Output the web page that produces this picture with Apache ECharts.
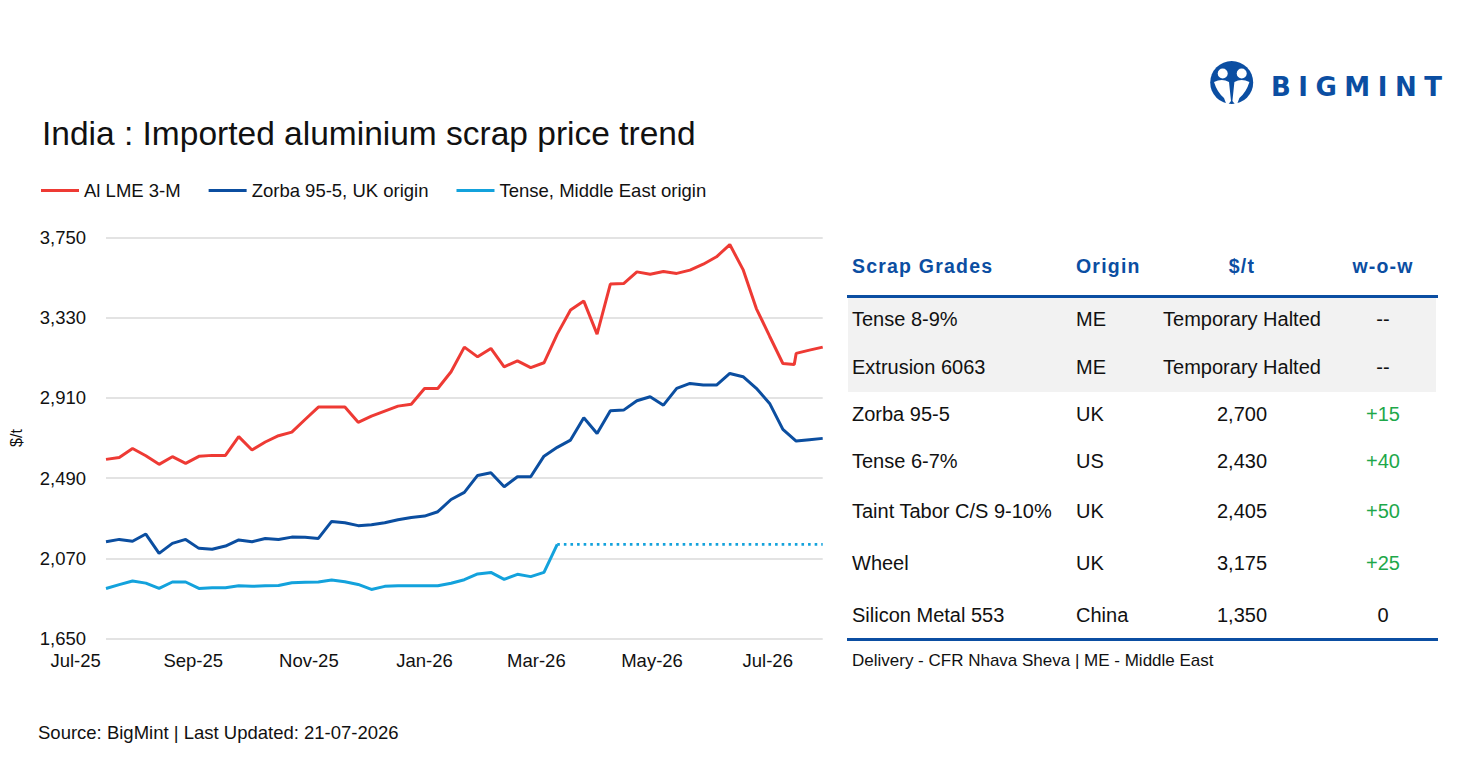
<!DOCTYPE html>
<html>
<head>
<meta charset="utf-8">
<title>India : Imported aluminium scrap price trend</title>
<script src="https://cdn.jsdelivr.net/npm/echarts@6/dist/echarts.min.js"></script>
<style>
  html, body { margin: 0; padding: 0; background: #fff; }
  #page { position: relative; width: 1460px; height: 759px; overflow: hidden;
          font-family: "Liberation Sans", Arial, sans-serif; color: #111; }
  #chart { position: absolute; left: 0; top: 0; width: 1460px; height: 759px; }
  #logo { position: absolute; left: 1208px; top: 58px; }
  #brand { position: absolute; left: 1271px; top: 71px; line-height: 32px; font-size: 26px;
           font-family: "DejaVu Sans", sans-serif; font-weight: bold; letter-spacing: 7.5px; color: #0b4ea2; }
  .cell { position: absolute; white-space: nowrap; height: 30px; line-height: 30px; font-size: 20px; }
  .head { color: #0b4ea2; font-weight: bold; font-size: 19.5px; letter-spacing: 1.2px; }
  .rule { position: absolute; left: 847px; width: 591px; height: 2.5px; background: #0b4ea2; }
  #shade { position: absolute; left: 848px; top: 298px; width: 588px; height: 94px; background: #f2f2f2; }
  #note { position: absolute; left: 852px; top: 649px; font-size: 17px; line-height: 24px; }
</style>
</head>
<body>
<div id="page">
  <div id="chart"></div>
  <svg id="logo" width="48" height="50" viewBox="0 0 48 50">
    <circle cx="23.7" cy="24.5" r="21.5" fill="#0b4ea2"/>
    <circle cx="14.7" cy="15.5" r="5" fill="#fff"/>
    <circle cx="33.7" cy="15.5" r="5" fill="#fff"/>
    <path d="M6 24 Q14 20 21 24 L23 43 L19 48 L16 40 Q9 34 6 24 Z" fill="#fff"/>
    <path d="M41.4 24 Q33.4 20 26.4 24 L24.4 43 L28.4 48 L31.4 40 Q38.4 34 41.4 24 Z" fill="#fff"/>
  </svg>
  <div id="brand">BIGMINT</div>
  <div id="shade"></div>
  <div class="rule" style="top:295px"></div>
  <div class="rule" style="top:638px"></div>
  <div id="table"></div>
  <div id="note">Delivery - CFR Nhava Sheva | ME - Middle East</div>
</div>
<script>
// weekly price points (USD/t)
const weeks = [
  '2025-07-17', '2025-07-24', '2025-07-31', '2025-08-07', '2025-08-14', '2025-08-21', '2025-08-28',
  '2025-09-04', '2025-09-11', '2025-09-18', '2025-09-25', '2025-10-02', '2025-10-09', '2025-10-16', '2025-10-23', '2025-10-30',
  '2025-11-06', '2025-11-13', '2025-11-20', '2025-11-27', '2025-12-04', '2025-12-11', '2025-12-18', '2025-12-25',
  '2026-01-01', '2026-01-08', '2026-01-15', '2026-01-22', '2026-01-29', '2026-02-05', '2026-02-12', '2026-02-19', '2026-02-26',
  '2026-03-05', '2026-03-12', '2026-03-19', '2026-03-26', '2026-04-02', '2026-04-09', '2026-04-16', '2026-04-23', '2026-04-30',
  '2026-05-07', '2026-05-14', '2026-05-21', '2026-05-28', '2026-06-04', '2026-06-11', '2026-06-18', '2026-06-25',
  '2026-07-02', '2026-07-09', '2026-07-16', '2026-07-23', '2026-07-30'
];
const lme = [
  2588, 2598, 2645, 2607, 2562, 2602, 2567, 2604, 2609, 2609,
  2707, 2637, 2679, 2712, 2731, 2797, 2862, 2862, 2862, 2782,
  2815, 2841, 2867, 2877, 2959, 2959, 3047, 3176, 3125, 3169,
  3073, 3104, 3069, 3094, 3244, 3370, 3417, 3244, 3506, 3509,
  3570, 3558, 3572, 3562, 3579, 3610, 3649, 3713, 3582, 3378,
  3233, 3090, 3143, 3160, 3176
];
// extra LME quote one day before the 16-Jul point
const lmeExtra = ['2026-07-15', 3085];
const zorba = [
  2157, 2169, 2159, 2197, 2096, 2148, 2169, 2122, 2117, 2134,
  2166, 2157, 2174, 2168, 2181, 2180, 2174, 2263, 2256, 2241,
  2246, 2256, 2272, 2284, 2291, 2314, 2378, 2415, 2504, 2518,
  2445, 2497, 2497, 2605, 2651, 2689, 2806, 2724, 2843, 2846,
  2895, 2916, 2872, 2960, 2986, 2977, 2977, 3038, 3021, 2960,
  2881, 2745, 2684, 2691, 2698
];
const tense = [
  1912, 1932, 1951, 1940, 1912, 1946, 1946, 1912, 1916, 1916,
  1926, 1923, 1926, 1928, 1942, 1944, 1946, 1956, 1947, 1933,
  1907, 1923, 1926, 1926, 1926, 1926, 1939, 1958, 1988, 1996,
  1960, 1986, 1974, 1996, 2143
];
// tense quotes halted: last price carried (dotted)
const tenseHeld = [['2026-03-12', 2143], ['2026-07-30', 2143]];

const monthTicks = ['2025-07-01', '2025-09-01', '2025-11-01', '2026-01-01', '2026-03-01', '2026-05-01', '2026-07-01'];
const monthLabels = ['Jul-25', 'Sep-25', 'Nov-25', 'Jan-26', 'Mar-26', 'May-26', 'Jul-26'];
const yTicks = [1650, 2070, 2490, 2910, 3330, 3750];

// side table
const tableHeads = ['Scrap Grades', 'Origin', '$/t', 'w-o-w'];
const grades = ['Tense 8-9%', 'Extrusion 6063', 'Zorba 95-5', 'Tense 6-7%', 'Taint Tabor C/S 9-10%', 'Wheel', 'Silicon Metal 553'];
const origins = ['ME', 'ME', 'UK', 'US', 'UK', 'UK', 'China'];
const prices = ['Temporary Halted', 'Temporary Halted', '2,700', '2,430', '2,405', '3,175', '1,350'];
const wow = ['--', '--', '+15', '+40', '+50', '+25', '0'];

const FONT = '"Liberation Sans", Arial, sans-serif';
const DAY = 86400000;
function dayOf(d) {
  return (Date.parse(d) - Date.parse(monthTicks[0])) / DAY;
}

// ---- table ----
const table = document.getElementById('table');
const colLeft = [852, 1076];
const colCenter = [null, null, 1242, 1383];
const headY = 266;
const rowY = [319, 367, 414, 461, 511, 563, 615];

function addCell(text, col, y, cls, color) {
  const el = document.createElement('div');
  el.className = 'cell ' + (cls || '');
  el.textContent = text;
  el.style.top = (y - 15) + 'px';
  if (colCenter[col]) {
    el.style.left = (colCenter[col] - 100) + 'px';
    el.style.width = '200px';
    el.style.textAlign = 'center';
  } else {
    el.style.left = colLeft[col] + 'px';
  }
  if (color) el.style.color = color;
  table.appendChild(el);
}
tableHeads.forEach((h, c) => addCell(h, c, headY, 'head'));
grades.forEach((g, i) => {
  addCell(g, 0, rowY[i]);
  addCell(origins[i], 1, rowY[i]);
  addCell(prices[i], 2, rowY[i]);
  addCell(wow[i], 3, rowY[i], '', wow[i].startsWith('+') ? '#1ea84a' : null);
});

// ---- chart ----
const chart = echarts.init(document.getElementById('chart'), null, { renderer: 'svg' });

const plot = { left: 106, top: 237.5, width: 716.7, height: 401 };
const firstDay = dayOf(weeks[0]);
const lastDay = dayOf(weeks[weeks.length - 1]);
const pxPerDay = plot.width / (lastDay - firstDay);

const lmeData = weeks.map((d, i) => [dayOf(d), lme[i]]);
lmeData.push([dayOf(lmeExtra[0]), lmeExtra[1]]);
lmeData.sort((a, b) => a[0] - b[0]);

const option = {
  animation: false,
  textStyle: { fontFamily: FONT },
  title: [
    {
      text: 'India : Imported aluminium scrap price trend',
      left: 37,
      top: 111,
      textStyle: { fontSize: 33.5, fontWeight: 'normal', color: '#111', fontFamily: FONT },
    },
    {
      text: 'Source: BigMint | Last Updated: 21-07-2026',
      left: 33,
      top: 718,
      textStyle: { fontSize: 18.5, fontWeight: 'normal', color: '#111', fontFamily: FONT },
    },
  ],
  legend: {
    data: ['Al LME 3-M', 'Zorba 95-5, UK origin', 'Tense, Middle East origin'],
    left: 36,
    top: 176,
    icon: 'rect',
    itemWidth: 38,
    itemHeight: 3,
    itemGap: 28,
    textStyle: { fontSize: 18.5, color: '#111', fontFamily: FONT },
  },
  grid: [
    { left: plot.left, top: plot.top, width: plot.width, height: plot.height, outerBoundsMode: 'none' },
    {
      left: plot.left - firstDay * pxPerDay,
      top: plot.top,
      width: plot.width + firstDay * pxPerDay,
      height: plot.height,
      outerBoundsMode: 'none',
    },
  ],
  xAxis: [
    {
      type: 'value',
      gridIndex: 0,
      min: firstDay,
      max: lastDay,
      axisLine: { show: false },
      axisTick: { show: false },
      axisLabel: { show: false },
      splitLine: { show: false },
    },
    {
      type: 'value',
      gridIndex: 1,
      min: 0,
      max: lastDay,
      axisLine: { show: false },
      axisTick: { show: false, customValues: monthTicks.map(dayOf) },
      splitLine: { show: false },
      axisLabel: {
        customValues: monthTicks.map(dayOf),
        formatter: (v) => monthLabels[monthTicks.map(dayOf).indexOf(v)],
        fontSize: 18.5,
        color: '#111',
        margin: 12,
        fontFamily: FONT,
      },
    },
  ],
  yAxis: [
    {
      type: 'value',
      gridIndex: 0,
      min: 1650,
      max: 3750,
      name: '$/t',
      nameLocation: 'middle',
      nameRotate: 90,
      nameGap: 82,
      nameTextStyle: { fontSize: 16, color: '#111', fontFamily: FONT },
      axisLine: { show: false },
      axisTick: { show: false, customValues: yTicks },
      axisLabel: {
        customValues: yTicks,
        formatter: (v) => v.toLocaleString('en-US'),
        fontSize: 18.5,
        color: '#111',
        margin: 20,
        fontFamily: FONT,
      },
      splitLine: { show: true, lineStyle: { color: '#dadada', width: 1.5 } },
    },
    { type: 'value', gridIndex: 1, min: 1650, max: 3750, show: false },
  ],
  series: [
    {
      name: 'Al LME 3-M',
      type: 'line',
      symbol: 'none',
      data: lmeData,
      color: '#ee3a34',
      lineStyle: { width: 3, color: '#ee3a34' },
    },
    {
      name: 'Zorba 95-5, UK origin',
      type: 'line',
      symbol: 'none',
      data: weeks.map((d, i) => [dayOf(d), zorba[i]]),
      color: '#0b4ea0',
      lineStyle: { width: 3, color: '#0b4ea0' },
    },
    {
      name: 'Tense, Middle East origin',
      type: 'line',
      symbol: 'none',
      data: tense.map((v, i) => [dayOf(weeks[i]), v]),
      color: '#13a2dc',
      lineStyle: { width: 3, color: '#13a2dc' },
    },
    {
      name: 'Tense held',
      type: 'line',
      symbol: 'none',
      data: tenseHeld.map((p) => [dayOf(p[0]), p[1]]),
      color: '#13a2dc',
      lineStyle: { width: 2.6, color: '#13a2dc', type: [2.6, 4] },
    },
  ],
};

chart.setOption(option);
</script>
</body>
</html>
